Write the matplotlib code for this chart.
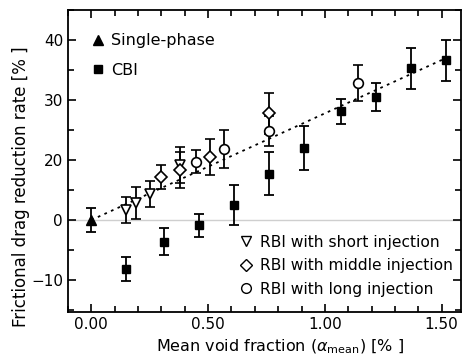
import matplotlib
matplotlib.use('Agg')
import matplotlib.pyplot as plt
from matplotlib.lines import Line2D
from matplotlib.ticker import MultipleLocator

# datos (eje y lineal, 0 en la linea gris)
single_x = [0.0]
single_y = [0.0]
single_err = [2.0]

cbi_x = [0.15, 0.31, 0.46, 0.61, 0.76, 0.91, 1.07, 1.22, 1.37, 1.52]
cbi_y = [-8.1, -3.6, -0.9, 2.5, 7.7, 12.0, 18.1, 20.5, 25.3, 26.6]
cbi_err = [2.0, 2.3, 1.9, 3.3, 3.6, 3.6, 2.1, 2.3, 3.4, 3.4]

short_x = [0.15, 0.19, 0.25, 0.38]
short_y = [1.7, 2.8, 4.3, 9.2]
short_err = [2.2, 2.7, 2.2, 3.0]

middle_x = [0.30, 0.38, 0.51, 0.76]
middle_y = [7.1, 8.3, 10.5, 17.8]
middle_err = [2.0, 3.0, 3.0, 3.4]

long_x = [0.45, 0.57, 0.76, 1.14]
long_y = [9.7, 11.8, 14.9, 22.9]
long_err = [1.9, 3.2, 2.5, 3.0]

# linea de tendencia
trend_x = [0.0, 1.53]
trend_y = [0.0, 27.2]

ytick_pos = [-10, 0, 10, 20, 30]
ytick_labels = ['\u221210', '0', '20', '30', '40']
xtick_pos = [0.0, 0.5, 1.0, 1.5]
xtick_labels = ['0.00', '0.50', '1.00', '1.50']

plt.rcParams['font.family'] = ['DejaVu Sans']

fig = plt.figure(figsize=(4.62, 3.57), dpi=100)
ax = fig.add_axes([0.147, 0.126, 0.851, 0.846])

# linea gris en cero
ax.axhline(0, color='#cfcfcf', lw=1.0, zorder=1)
# tendencia punteada
ax.plot(trend_x, trend_y, color='black', lw=1.3, dashes=(1.5, 2.5), zorder=2)

eb = dict(ecolor='black', elinewidth=1.3, capsize=3.5, capthick=1.3,
          linestyle='none', zorder=3)
ax.errorbar(single_x, single_y, yerr=single_err, fmt='^', ms=7,
            mfc='black', mec='black', **eb)
ax.errorbar(cbi_x, cbi_y, yerr=cbi_err, fmt='s', ms=6.3,
            mfc='black', mec='black', **eb)
ax.errorbar(short_x, short_y, yerr=short_err, fmt='v', ms=7,
            mfc='white', mec='black', mew=1.2, **eb)
ax.errorbar(middle_x, middle_y, yerr=middle_err, fmt='D', ms=6,
            mfc='white', mec='black', mew=1.2, **eb)
ax.errorbar(long_x, long_y, yerr=long_err, fmt='o', ms=7,
            mfc='white', mec='black', mew=1.2, **eb)

ax.set_xlim(-0.1, 1.583)
ax.set_ylim(-15.33, 35)

ax.set_xticks(xtick_pos)
ax.set_xticklabels(xtick_labels)
ax.set_yticks(ytick_pos)
ax.set_yticklabels(ytick_labels)
ax.xaxis.set_minor_locator(MultipleLocator(0.1))
ax.yaxis.set_minor_locator(MultipleLocator(5))
ax.tick_params(which='both', direction='in', top=True, right=True,
               width=1.2, labelsize=11)
ax.tick_params(which='major', length=6)
ax.tick_params(which='minor', length=4)
for s in ax.spines.values():
    s.set_linewidth(1.3)

ax.set_xlabel(r'Mean void fraction ($\alpha_{\rm mean}$) [% ]', fontsize=11.5)
ax.set_ylabel('Frictional drag reduction rate [% ]', fontsize=12)
ax.xaxis.set_label_coords(0.54, -0.085)
ax.yaxis.set_label_coords(-0.097, 0.414)

# leyendas
h1 = [Line2D([], [], marker='^', color='black', ls='none', ms=6.5),
      Line2D([], [], marker='s', color='black', ls='none', ms=6.3)]
leg1 = ax.legend(h1, ['Single-phase', 'CBI'], loc='upper left',
                 bbox_to_anchor=(0.028, 0.96), frameon=False, fontsize=11.5,
                 handlelength=1.0, handletextpad=0.3, labelspacing=0.9,
                 borderaxespad=0.3)
ax.add_artist(leg1)
h2 = [Line2D([], [], marker='v', mfc='white', mec='black', ls='none', ms=7),
      Line2D([], [], marker='D', mfc='white', mec='black', ls='none', ms=6),
      Line2D([], [], marker='o', mfc='white', mec='black', ls='none', ms=7)]
ax.legend(h2, ['RBI with short injection', 'RBI with middle injection',
               'RBI with long injection'],
          loc='lower right', bbox_to_anchor=(1.0, 0.025), frameon=False,
          fontsize=11.2, handlelength=1.0, handletextpad=0.4,
          labelspacing=0.55, borderaxespad=0.1)

fig.savefig('out.png', dpi=100)
